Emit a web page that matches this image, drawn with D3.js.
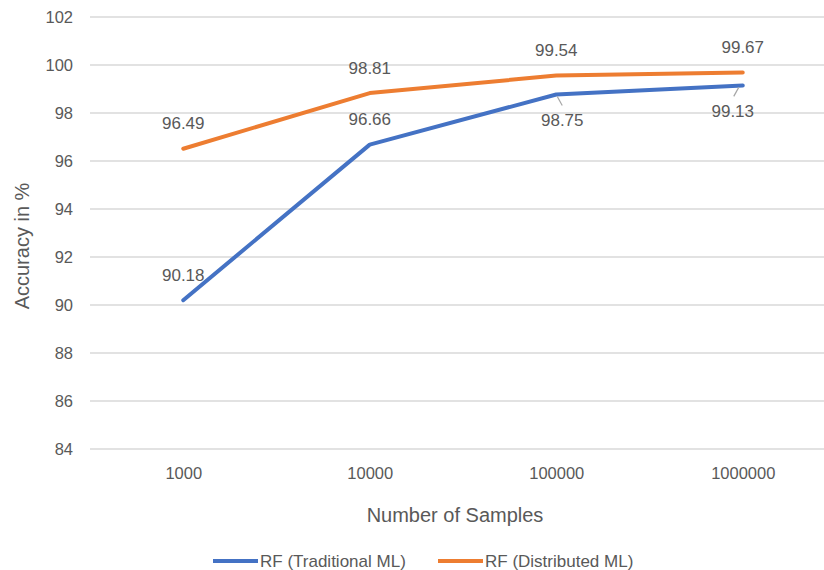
<!DOCTYPE html>
<html>
<head>
<meta charset="utf-8">
<script src="https://cdn.jsdelivr.net/npm/d3@7"></script>
<style>
  html, body { margin: 0; padding: 0; background: #ffffff; }
  svg { display: block; font-family: "Liberation Sans", Arial, sans-serif; }
</style>
</head>
<body>
<svg id="chart" width="824" height="570"></svg>
<script>
// Accuracy of Random Forest by training-set size
const categories = ["1000", "10000", "100000", "1000000"];
const traditional = [90.18, 96.66, 98.75, 99.13];
const distributed = [96.49, 98.81, 99.54, 99.67];
const seriesNames = ["RF (Traditional ML)", "RF (Distributed ML)"];
const yTicks = [84, 86, 88, 90, 92, 94, 96, 98, 100, 102];
// label placement for each point: above or below (with a leader line)
const traditionalLabelPos = ["above", "above", "below", "below"];
const distributedLabelPos = ["above", "above", "above", "above"];

const colors = ["#4472C4", "#ED7D31"];
const textColor = "#595959";
const gridColor = "#d9d9d9";

const svg = d3.select("#chart");
const plotLeft = 90, plotRight = 836, plotTop = 16.5, plotBottom = 448.5;

const x = d3.scalePoint().domain(categories).range([plotLeft, plotRight]).padding(0.5);
const y = d3.scaleLinear().domain([84, 102]).range([plotBottom, plotTop]);

// y axis with gridlines
const yAxis = svg.append("g")
  .attr("transform", `translate(${plotLeft},0)`)
  .call(d3.axisLeft(y).tickValues(yTicks).tickSizeInner(-(plotRight - plotLeft)).tickSizeOuter(0).tickPadding(17));
yAxis.select(".domain").remove();
yAxis.selectAll(".tick line").attr("stroke", gridColor).attr("stroke-width", 1.3);
yAxis.selectAll(".tick text")
  .attr("fill", textColor).style("font-size", "16.5px").attr("dy", "0.35em")
  .style("font-family", "'Liberation Sans', Arial, sans-serif");

// x axis labels
const xAxis = svg.append("g")
  .attr("transform", `translate(0,${plotBottom})`)
  .call(d3.axisBottom(x).tickSize(0).tickPadding(0));
xAxis.select(".domain").remove();
xAxis.selectAll(".tick text")
  .attr("fill", textColor).style("font-size", "16.5px")
  .attr("y", 24.5).attr("dy", "0.35em")
  .style("font-family", "'Liberation Sans', Arial, sans-serif");

// axis titles
svg.append("text")
  .attr("x", 455).attr("y", 515).attr("dy", "0.35em")
  .attr("text-anchor", "middle").attr("fill", textColor)
  .style("font-size", "20px").text("Number of Samples");
svg.append("text")
  .attr("transform", "translate(22,246) rotate(-90)")
  .attr("dy", "0.35em").attr("text-anchor", "middle").attr("fill", textColor)
  .style("font-size", "20px").text("Accuracy in %");

// lines
const series = [
  { name: seriesNames[0], values: traditional, pos: traditionalLabelPos, color: colors[0] },
  { name: seriesNames[1], values: distributed, pos: distributedLabelPos, color: colors[1] }
];
const line = d3.line().x((d, i) => x(categories[i])).y(d => y(d));

series.forEach(s => {
  svg.append("path")
    .datum(s.values)
    .attr("d", line)
    .attr("fill", "none")
    .attr("stroke", s.color)
    .attr("stroke-width", 4)
    .attr("stroke-linejoin", "round")
    .attr("stroke-linecap", "round");
});

// data labels
series.forEach(s => {
  s.values.forEach((v, i) => {
    const px = x(categories[i]), py = y(v);
    if (s.pos[i] === "above") {
      svg.append("text")
        .attr("x", px).attr("y", py - 25.5).attr("dy", "0.35em")
        .attr("text-anchor", "middle").attr("fill", textColor)
        .style("font-size", "17px").text(v.toFixed(2));
    } else {
      const lx = px + (i === 3 ? -10 : 6), ly = py + 25.5;
      svg.append("line")
        .attr("x1", px + (i === 3 ? -4 : 1)).attr("y1", py + 2)
        .attr("x2", px + (i === 3 ? -9 : 6)).attr("y2", py + 11)
        .attr("stroke", "#a6a6a6").attr("stroke-width", 1.2);
      svg.append("text")
        .attr("x", lx).attr("y", ly).attr("dy", "0.35em")
        .attr("text-anchor", "middle").attr("fill", textColor)
        .style("font-size", "17px").text(v.toFixed(2));
    }
  });
});

// legend
const legendItems = [
  { name: seriesNames[0], color: colors[0], x0: 213 },
  { name: seriesNames[1], color: colors[1], x0: 438 }
];
const legend = svg.append("g");
legendItems.forEach(d => {
  legend.append("line")
    .attr("x1", d.x0).attr("x2", d.x0 + 45)
    .attr("y1", 561).attr("y2", 561)
    .attr("stroke", d.color).attr("stroke-width", 4);
  legend.append("text")
    .attr("x", d.x0 + 47).attr("y", 561).attr("dy", "0.35em")
    .attr("fill", textColor).style("font-size", "17px").text(d.name);
});
</script>
</body>
</html>
